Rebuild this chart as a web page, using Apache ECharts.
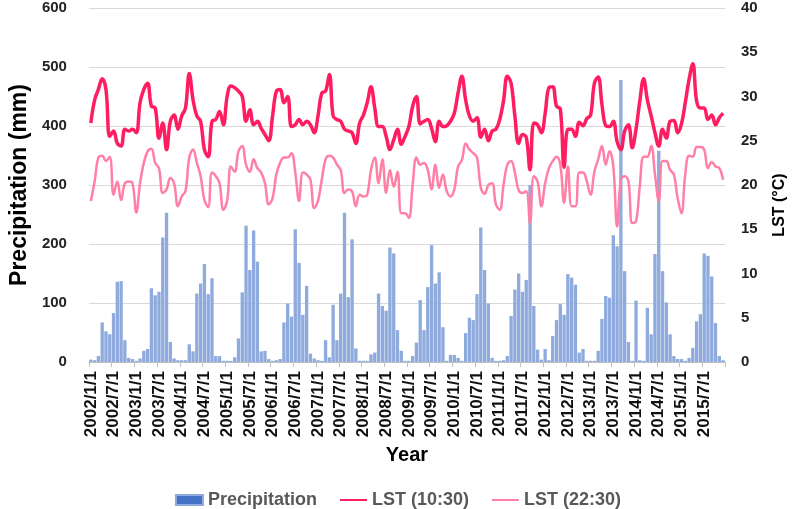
<!DOCTYPE html>
<html>
<head>
<meta charset="utf-8">
<script src="https://cdn.jsdelivr.net/npm/echarts@6/dist/echarts.min.js"></script>
<style>
html,body{margin:0;padding:0;background:#fff;}
#chart{width:796px;height:509px;}
</style>
</head>
<body>
<div id="chart"></div>
<script>
// Years covered (monthly data, Jan 2002 - Dec 2015)
const years = [2002,2003,2004,2005,2006,2007,2008,2009,2010,2011,2012,2013,2014,2015];
const months = [1,2,3,4,5,6,7,8,9,10,11,12];

// Monthly precipitation (mm), one row per year
const precip2002 = [4, 3, 10, 67, 52, 47, 83, 136, 137, 37, 7, 5];
const precip2003 = [2, 6, 19, 22, 125, 113, 119, 211, 253, 34, 6, 3];
const precip2004 = [3, 3, 30, 18, 116, 133, 166, 115, 142, 10, 10, 2];
const precip2005 = [2, 2, 8, 40, 118, 231, 156, 223, 170, 18, 19, 5];
const precip2006 = [2, 3, 5, 67, 99, 77, 225, 168, 80, 129, 14, 6];
const precip2007 = [3, 2, 37, 8, 97, 37, 116, 253, 110, 208, 23, 2];
const precip2008 = [2, 2, 13, 16, 116, 95, 87, 194, 184, 54, 19, 2];
const precip2009 = [2, 10, 33, 105, 54, 127, 198, 133, 152, 59, 2, 12];
const precip2010 = [12, 7, 2, 49, 75, 71, 115, 228, 156, 99, 7, 2];
const precip2011 = [2, 3, 10, 78, 123, 150, 119, 139, 300, 95, 21, 4];
const precip2012 = [22, 3, 44, 71, 98, 80, 149, 143, 131, 16, 22, 2];
const precip2013 = [2, 2, 19, 73, 112, 109, 215, 196, 478, 154, 34, 2];
const precip2014 = [104, 3, 2, 92, 47, 183, 358, 154, 101, 47, 10, 5];
const precip2015 = [5, 2, 7, 24, 69, 81, 184, 180, 145, 66, 10, 3];

// LST at 10:30 (°C)
const lstDay2002 = [27.0, 29.6, 30.8, 32.0, 30.8, 25.5, 26.1, 24.7, 24.4, 26.3, 26.1, 26.3];
const lstDay2003 = [25.9, 29.3, 30.8, 31.5, 28.9, 28.7, 25.3, 27.0, 24.0, 27.2, 27.9, 26.3];
const lstDay2004 = [27.8, 28.7, 32.6, 29.6, 27.8, 27.2, 24.0, 23.2, 27.2, 27.4, 28.3, 26.8];
const lstDay2005 = [30.0, 31.2, 31.0, 30.6, 30.0, 27.2, 28.5, 26.8, 27.2, 26.4, 25.7, 25.0];
const lstDay2006 = [27.8, 30.6, 30.8, 29.3, 30.0, 26.6, 26.8, 27.4, 26.8, 27.2, 26.8, 25.9];
const lstDay2007 = [27.8, 30.4, 30.6, 32.5, 27.8, 27.4, 27.2, 26.3, 26.1, 25.9, 24.7, 27.0];
const lstDay2008 = [27.9, 29.3, 31.1, 28.7, 26.6, 26.6, 25.5, 24.0, 25.1, 26.3, 24.6, 25.5];
const lstDay2009 = [26.6, 28.9, 30.0, 26.9, 27.2, 27.4, 26.4, 24.9, 27.2, 26.6, 26.7, 27.2];
const lstDay2010 = [28.1, 30.4, 32.3, 29.6, 27.8, 27.2, 27.6, 25.4, 26.3, 25.0, 26.1, 26.3];
const lstDay2011 = [27.4, 29.5, 32.3, 31.5, 27.8, 24.7, 25.7, 25.4, 21.7, 27.0, 26.8, 25.9];
const lstDay2012 = [28.1, 31.0, 31.1, 28.9, 28.6, 22.0, 26.3, 26.3, 25.5, 27.1, 26.7, 27.5];
const lstDay2013 = [27.9, 31.5, 32.2, 29.1, 26.7, 26.6, 27.2, 24.9, 24.0, 26.1, 26.8, 24.2];
const lstDay2014 = [26.3, 29.5, 32.0, 29.6, 27.8, 25.9, 24.4, 26.3, 25.3, 27.2, 27.3, 25.9];
const lstDay2015 = [26.9, 29.3, 31.9, 33.7, 29.5, 28.7, 28.7, 27.4, 27.9, 26.8, 27.6, 28.1];

// LST at 22:30 (°C)
const lstNight2002 = [18.2, 20.4, 23.1, 23.3, 22.7, 23.2, 18.9, 20.4, 18.3, 20.2, 20.4, 20.2];
const lstNight2003 = [16.9, 20.2, 22.5, 23.8, 24.1, 22.5, 21.9, 19.1, 19.5, 20.8, 20.2, 17.6];
const lstNight2004 = [18.7, 19.3, 23.1, 24.0, 22.5, 21.0, 18.3, 17.5, 21.4, 21.0, 20.2, 17.2];
const lstNight2005 = [18.2, 22.1, 21.5, 23.8, 24.4, 22.3, 21.5, 22.9, 21.9, 21.4, 20.2, 17.8];
const lstNight2006 = [18.5, 21.2, 22.5, 23.1, 23.1, 23.6, 21.4, 18.2, 21.4, 21.2, 20.6, 17.4];
const lstNight2007 = [18.2, 20.6, 22.9, 23.3, 23.1, 22.3, 21.7, 19.1, 19.5, 19.3, 17.6, 18.9];
const lstNight2008 = [18.7, 18.9, 21.7, 23.1, 20.2, 22.9, 19.1, 21.7, 19.8, 21.5, 16.8, 16.8];
const lstNight2009 = [16.3, 20.0, 23.1, 22.3, 22.5, 21.7, 19.5, 22.3, 19.7, 21.2, 19.3, 18.7];
const lstNight2010 = [19.5, 22.1, 22.8, 24.7, 24.0, 23.6, 23.1, 19.7, 19.0, 20.0, 20.2, 17.8];
const lstNight2011 = [17.2, 20.0, 22.3, 22.7, 21.4, 19.4, 19.1, 19.3, 15.7, 21.0, 20.4, 17.6];
const lstNight2012 = [20.2, 21.9, 22.7, 23.2, 22.3, 18.0, 22.1, 17.6, 17.6, 21.4, 21.4, 20.4];
const lstNight2013 = [18.9, 21.5, 22.9, 24.4, 22.3, 23.8, 22.1, 15.3, 20.6, 21.0, 20.4, 15.7];
const lstNight2014 = [15.9, 19.9, 23.2, 23.2, 24.4, 21.2, 18.2, 22.7, 22.7, 21.7, 21.2, 18.5];
const lstNight2015 = [16.8, 21.2, 23.3, 23.2, 24.3, 24.3, 24.0, 21.9, 22.6, 22.1, 21.9, 20.6];

const precipitation = [].concat(precip2002, precip2003, precip2004, precip2005, precip2006, precip2007,
  precip2008, precip2009, precip2010, precip2011, precip2012, precip2013, precip2014, precip2015);
const lst1030 = [].concat(lstDay2002, lstDay2003, lstDay2004, lstDay2005, lstDay2006, lstDay2007,
  lstDay2008, lstDay2009, lstDay2010, lstDay2011, lstDay2012, lstDay2013, lstDay2014, lstDay2015);
const lst2230 = [].concat(lstNight2002, lstNight2003, lstNight2004, lstNight2005, lstNight2006, lstNight2007,
  lstNight2008, lstNight2009, lstNight2010, lstNight2011, lstNight2012, lstNight2013, lstNight2014, lstNight2015);

const categories = [];
years.forEach(y => months.forEach(m => categories.push(y + '/' + m + '/1')));

const FONT = 'Liberation Sans, Arial, sans-serif';
const chart = echarts.init(document.getElementById('chart'), null, {renderer: 'canvas'});
chart.setOption({
  animation: false,
  backgroundColor: '#ffffff',
  textStyle: {fontFamily: FONT},
  grid: {left: 82, right: 71, top: 8, bottom: 147, containLabel: false},
  legend: {
    left: 'center',
    top: 486,
    itemWidth: 27,
    itemHeight: 10,
    itemGap: 22,
    textStyle: {fontFamily: FONT, fontSize: 18, fontWeight: 'bold', color: '#595959'},
    data: [
      {name: 'Precipitation', icon: 'rect', itemStyle: {color: '#4472C4', borderColor: '#8FAADC', borderWidth: 2}},
      {name: 'LST (10:30)', itemStyle: {opacity: 0}},
      {name: 'LST (22:30)', itemStyle: {opacity: 0}}
    ]
  },
  xAxis: {
    type: 'category',
    data: categories,
    boundaryGap: true,
    name: 'Year',
    nameLocation: 'middle',
    nameGap: 71,
    nameTextStyle: {fontFamily: FONT, fontSize: 20, fontWeight: 'bold', color: '#000'},
    axisLine: {lineStyle: {color: '#BFBFBF', width: 1}},
    axisTick: {show: true, interval: 5, length: 5, lineStyle: {color: '#BFBFBF'}},
    axisLabel: {interval: 5, rotate: 90, margin: 9, fontFamily: FONT, fontSize: 17, fontWeight: 'bold', color: '#111'},
    splitLine: {show: false}
  },
  yAxis: [
    {
      type: 'value', min: 0, max: 600, interval: 100,
      name: 'Precipitation (mm)',
      nameLocation: 'middle',
      nameGap: 52,
      nameTextStyle: {fontFamily: FONT, fontSize: 23, fontWeight: 'bold', color: '#000'},
      axisLine: {show: false},
      axisTick: {show: false},
      axisLabel: {margin: 22, fontFamily: FONT, fontSize: 15, fontWeight: 'bold', color: '#222'},
      splitLine: {lineStyle: {color: '#D9D9D9', width: 1}}
    },
    {
      type: 'value', min: 0, max: 40, interval: 5,
      name: 'LST (°C)',
      nameLocation: 'middle',
      nameGap: 47,
      nameTextStyle: {fontFamily: FONT, fontSize: 16, fontWeight: 'bold', color: '#000', padding: [0, 40, 0, 0]},
      axisLine: {show: false},
      axisTick: {show: false},
      axisLabel: {margin: 16, fontFamily: FONT, fontSize: 15, fontWeight: 'bold', color: '#222'},
      splitLine: {show: false}
    }
  ],
  series: [
    {
      name: 'Precipitation', type: 'bar', yAxisIndex: 0,
      data: precipitation,
      barCategoryGap: '12%',
      itemStyle: {color: '#8FAADC'}
    },
    {
      name: 'LST (10:30)', type: 'line', yAxisIndex: 1,
      data: lst1030, smooth: 0.4, symbol: 'none',
      lineStyle: {color: '#FF1D62', width: 3.5},
      itemStyle: {color: '#FF1D62'}
    },
    {
      name: 'LST (22:30)', type: 'line', yAxisIndex: 1,
      data: lst2230, smooth: 0.4, symbol: 'none',
      lineStyle: {color: '#FF7FA6', width: 2.5},
      itemStyle: {color: '#FF7FA6'}
    }
  ]
});
</script>
</body>
</html>
